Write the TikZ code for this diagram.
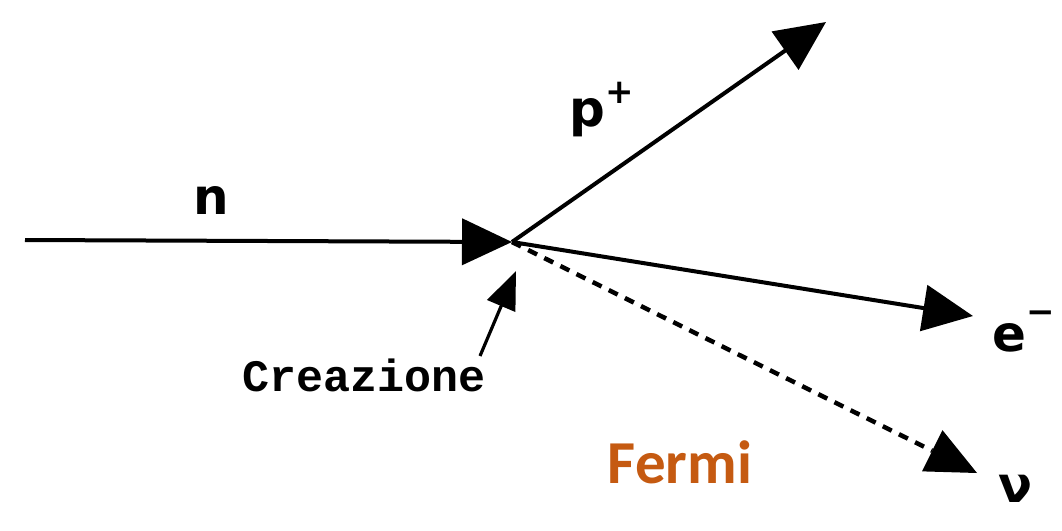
\documentclass[tikz,border=0pt]{standalone}
\usepackage{fontspec}
\setmainfont{DejaVu Sans}
\newfontfamily\labfont{DejaVu Sans}
\newfontfamily\monofont{Liberation Mono}
\newfontfamily\fermifont{Carlito}
\usetikzlibrary{arrows.meta}
\definecolor{fermiorange}{HTML}{C55A11}
\begin{document}
\begin{tikzpicture}[x=1pt,y=-1pt,
  particle/.style={line width=4pt,-{Triangle[length=50pt,width=46pt]}},
  lab/.style={font=\labfont\bfseries\fontsize{50}{50}\selectfont,inner sep=0pt},
  pointer/.style={line width=3.2pt,-{Triangle[length=38pt,width=30pt]}}]
\fill[white] (0,0) rectangle (1062,530);
\useasboundingbox (0,0) rectangle (1062,530);
\coordinate (start) at (25,240);
\coordinate (V) at (512,242);
\coordinate (ptip) at (826,22);
\coordinate (etip) at (973,316);
\coordinate (nutip) at (977,473);
\coordinate (cstart) at (480,356);
\coordinate (ctip) at (516,271);
\draw[particle] (start) -- (V);
\draw[particle] (V) -- (ptip);
\draw[particle] (V) -- (etip);
\draw[line width=4.5pt,dash pattern=on 10pt off 8pt,-{Triangle[length=50pt,width=46pt,line width=0pt]}] (V) -- (nutip);
\draw[pointer] (cstart) -- (ctip);
\node[lab,anchor=base] (nlab) at (211,214) {n};
\node[lab,anchor=base] (plab) at (602,126) {p\raisebox{0.45em}{\fontsize{34}{34}\selectfont+}};
\node[lab,anchor=base] (elab) at (1024,351) {e\raisebox{0.55em}{\fontsize{34}{34}\selectfont−}};
\node[lab,anchor=base] (nulab) at (1016,502) {ν};
\node[inner sep=0pt,anchor=base,font=\monofont\bfseries\fontsize{45}{45}\selectfont] (crea) at (364,391) {Creazione};
\node[inner sep=0pt,anchor=base,text=fermiorange,font=\fermifont\bfseries\fontsize{61}{61}\selectfont] (fermi) at (680,483) {Fermi};
\end{tikzpicture}
\end{document}
